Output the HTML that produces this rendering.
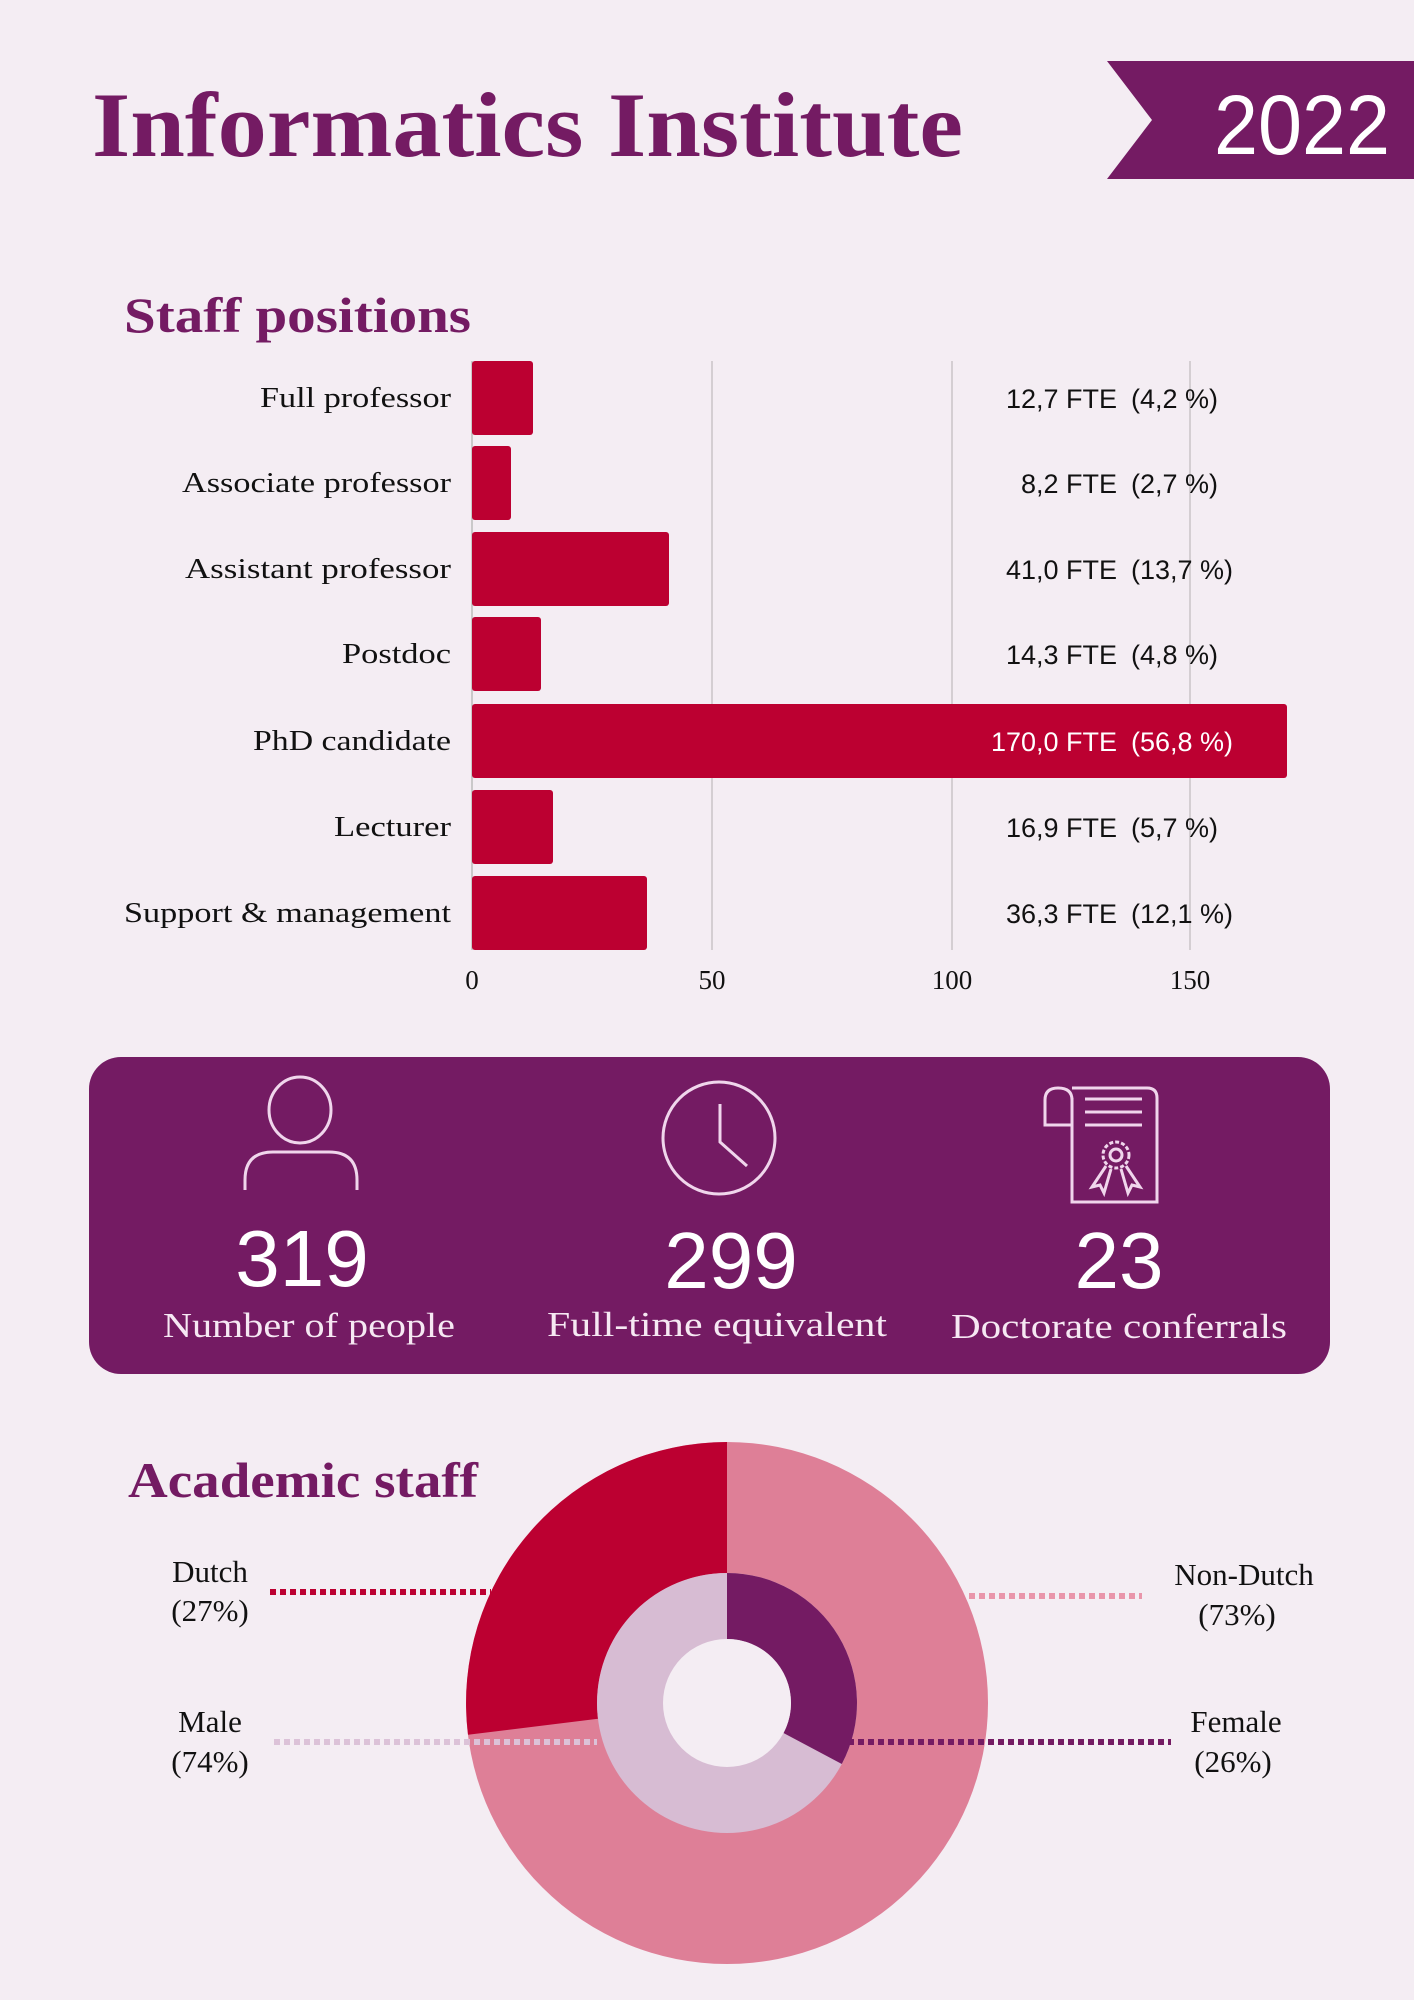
<!DOCTYPE html>
<html><head><meta charset="utf-8"><style>
html,body{margin:0;padding:0;background:#f4edf3;}
svg{display:block}
</style></head><body>
<svg width="1414" height="2000" viewBox="0 0 1414 2000" xmlns="http://www.w3.org/2000/svg">
<rect width="1414" height="2000" fill="#f4edf3"/>
<!-- Title -->
<text x="92" y="156" font-family="Liberation Serif, serif" font-weight="bold" font-size="92" fill="#741b63" textLength="871" lengthAdjust="spacingAndGlyphs">Informatics Institute</text>
<polygon points="1107,61 1414,61 1414,179 1107,179 1152,120" fill="#741b63"/>
<text x="1214" y="154" font-family="Liberation Sans, sans-serif" font-size="84" fill="#fff" textLength="176" lengthAdjust="spacingAndGlyphs">2022</text>

<!-- Staff positions -->
<text x="124" y="332" font-family="Liberation Serif, serif" font-weight="bold" font-size="50" fill="#741b63" textLength="347" lengthAdjust="spacingAndGlyphs">Staff positions</text>
<g stroke="#c9c3c8" stroke-width="1.5">
<line x1="712" y1="361" x2="712" y2="950"/><line x1="952" y1="361" x2="952" y2="950"/><line x1="1190" y1="361" x2="1190" y2="950"/>
</g>
<line x1="472" y1="361" x2="472" y2="950" stroke="#bbb" stroke-width="1.5"/>
<g fill="#bc0031">
<rect x="472" y="361" width="61" height="74" rx="3"/>
<rect x="472" y="446" width="39" height="74" rx="3"/>
<rect x="472" y="532" width="197" height="74" rx="3"/>
<rect x="472" y="617" width="69" height="74" rx="3"/>
<rect x="472" y="704" width="815" height="74" rx="3"/>
<rect x="472" y="790" width="81" height="74" rx="3"/>
<rect x="472" y="876" width="175" height="74" rx="3"/>
</g>
<g font-family="Liberation Serif, serif" font-size="29" fill="#111" text-anchor="end">
<text x="451" y="407" textLength="191" lengthAdjust="spacingAndGlyphs">Full professor</text>
<text x="451" y="492" textLength="269" lengthAdjust="spacingAndGlyphs">Associate professor</text>
<text x="451" y="578" textLength="266" lengthAdjust="spacingAndGlyphs">Assistant professor</text>
<text x="451" y="663" textLength="109" lengthAdjust="spacingAndGlyphs">Postdoc</text>
<text x="451" y="750" textLength="198" lengthAdjust="spacingAndGlyphs">PhD candidate</text>
<text x="451" y="836" textLength="117" lengthAdjust="spacingAndGlyphs">Lecturer</text>
<text x="451" y="922" textLength="327" lengthAdjust="spacingAndGlyphs">Support &amp; management</text>
</g>
<g font-family="Liberation Sans, sans-serif" font-size="27" fill="#111">
<text x="1117" y="408" text-anchor="end">12,7 FTE</text><text x="1131" y="408">(4,2 %)</text>
<text x="1117" y="493" text-anchor="end">8,2 FTE</text><text x="1131" y="493">(2,7 %)</text>
<text x="1117" y="579" text-anchor="end">41,0 FTE</text><text x="1131" y="579">(13,7 %)</text>
<text x="1117" y="664" text-anchor="end">14,3 FTE</text><text x="1131" y="664">(4,8 %)</text>
<text x="1117" y="751" text-anchor="end" fill="#fff">170,0 FTE</text><text x="1131" y="751" fill="#fff">(56,8 %)</text>
<text x="1117" y="837" text-anchor="end">16,9 FTE</text><text x="1131" y="837">(5,7 %)</text>
<text x="1117" y="923" text-anchor="end">36,3 FTE</text><text x="1131" y="923">(12,1 %)</text>
</g>
<g font-family="Liberation Serif, serif" font-size="27" fill="#111" text-anchor="middle">
<text x="472" y="989">0</text><text x="712" y="989">50</text><text x="952" y="989">100</text><text x="1190" y="989">150</text>
</g>

<!-- Stats box -->
<rect x="89" y="1057" width="1241" height="317" rx="32" fill="#741b63"/>
<g fill="none" stroke="#f0d6ec" stroke-width="3">
<ellipse cx="300" cy="1110" rx="31" ry="33"/>
<path d="M245,1190 V1180 Q245,1152 273,1152 H329 Q357,1152 357,1180 V1190"/>
<circle cx="719" cy="1138" r="56"/>
<path d="M720,1104 V1142 L747,1166"/>
<path d="M1072,1088 H1147 Q1157,1088 1157,1098 V1202 H1072 V1098"/>
<path d="M1072,1125 H1045 V1100 Q1045,1088 1058,1088 Q1072,1088 1072,1100"/>
<line x1="1085" y1="1099" x2="1142" y2="1099"/><line x1="1085" y1="1112" x2="1142" y2="1112"/><line x1="1085" y1="1125" x2="1142" y2="1125"/>
<circle cx="1116" cy="1155" r="13" stroke-dasharray="4 2"/>
<circle cx="1116" cy="1155" r="6"/>
<path d="M1106,1166 L1092,1187 L1100,1185 L1104,1193 L1111,1169"/>
<path d="M1126,1166 L1140,1187 L1132,1185 L1128,1193 L1121,1169"/>
</g>
<g font-family="Liberation Sans, sans-serif" font-size="80" fill="#fff" text-anchor="middle">
<text x="302" y="1286">319</text><text x="731" y="1288">299</text><text x="1119" y="1288">23</text>
</g>
<g font-family="Liberation Serif, serif" font-size="35" fill="#f6e8f3" text-anchor="middle">
<text x="309" y="1337" textLength="292" lengthAdjust="spacingAndGlyphs">Number of people</text>
<text x="717" y="1336" textLength="340" lengthAdjust="spacingAndGlyphs">Full-time equivalent</text>
<text x="1119" y="1338" textLength="336" lengthAdjust="spacingAndGlyphs">Doctorate conferrals</text>
</g>

<!-- Academic staff -->
<text x="128" y="1497" font-family="Liberation Serif, serif" font-weight="bold" font-size="50" fill="#741b63" textLength="350" lengthAdjust="spacingAndGlyphs">Academic staff</text>
<circle cx="727" cy="1703" r="261" fill="#de7f97"/>
<path d="M727,1442 A261,261 0 0 0 468,1734.8 L598,1718.8 A130,130 0 0 1 727,1573 Z" fill="#bc0031"/>
<circle cx="727" cy="1703" r="130" fill="#d7bcd3"/>
<path d="M727,1573 A130,130 0 0 1 841.8,1764 L783.5,1733 A64,64 0 0 0 727,1639 Z" fill="#741b63"/>
<circle cx="727" cy="1703" r="64" fill="#f4edf3"/>
<g stroke-width="6" stroke-dasharray="6 4">
<line x1="270" y1="1592" x2="491" y2="1592" stroke="#bc0031"/>
<line x1="969" y1="1596" x2="1142" y2="1596" stroke="#e995aa"/>
<line x1="274" y1="1742" x2="597" y2="1742" stroke="#dcc2d8"/>
<line x1="848" y1="1742" x2="1171" y2="1742" stroke="#741b63"/>
</g>
<g font-family="Liberation Serif, serif" font-size="31" fill="#111" text-anchor="middle">
<text x="210" y="1582">Dutch</text><text x="210" y="1621">(27%)</text>
<text x="1244" y="1585">Non-Dutch</text><text x="1237" y="1625">(73%)</text>
<text x="210" y="1732">Male</text><text x="210" y="1772">(74%)</text>
<text x="1236" y="1732">Female</text><text x="1233" y="1772">(26%)</text>
</g>
</svg>
</body></html>
